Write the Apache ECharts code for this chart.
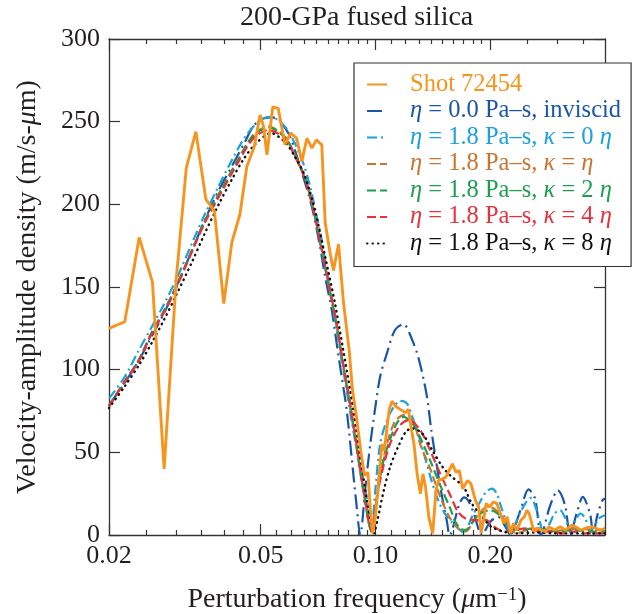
<!DOCTYPE html>
<html>
<head>
<meta charset="utf-8">
<script src="https://cdn.jsdelivr.net/npm/echarts@6/dist/echarts.min.js"></script>
<style>
html,body{margin:0;padding:0;background:#fff;}
#chart{width:634px;height:614px;}
</style>
</head>
<body>
<div id="chart"></div>
<script>
// ---- tick labels ----
const majorTicks = [0.02, 0.05, 0.1, 0.2];
const minorTicks = [0.025,0.03,0.035,0.04,0.045,0.055,0.06,0.065,0.07,0.075,0.08,0.085,0.09,0.095,
                    0.11,0.12,0.13,0.14,0.15,0.16,0.17,0.18,0.19,0.25,0.3,0.35];

// ---- series names ----
const seriesNames = [
  'Shot 72454',
  'η = 0.0 Pa–s, inviscid',
  'η = 1.8 Pa–s, κ = 0 η',
  'η = 1.8 Pa–s, κ = η',
  'η = 1.8 Pa–s, κ = 2 η',
  'η = 1.8 Pa–s, κ = 4 η',
  'η = 1.8 Pa–s, κ = 8 η'
];

// ---- Shot 72454 (measured) ----
const shotFreq = [0.0200,0.0220,0.0240,0.0260,0.0279,0.0300,0.0319,0.0338,0.0359,0.0378,0.0400,0.0420,0.0441,0.0460,0.0481,0.0498,0.0509,0.0519,0.0538,0.0556,0.0579,0.0599,0.0621,0.0641,0.0661,0.0681,0.0700,0.0723,0.0738,0.0761,0.0776,0.0800,0.0824,0.0853,0.0870,0.0893,0.0916,0.0936,0.0955,0.0970,0.0983,0.1000,0.1019,0.1040,0.1055,0.1072,0.1087,0.1105,0.1127,0.1161,0.1197,0.1220,0.1240,0.1262,0.1286,0.1312,0.1332,0.1353,0.1380,0.1413,0.1441,0.1464,0.1500,0.1529,0.1560,0.1592,0.1625,0.1659,0.1693,0.1745,0.1780,0.1829,0.1865,0.1893,0.1921,0.1951,0.1991,0.2040,0.2082,0.2126,0.2170,0.2215,0.2262,0.2300,0.2350,0.2407,0.2457,0.2497,0.2530,0.2570,0.2605,0.2660,0.2730,0.2790,0.2850,0.2950,0.3054,0.3150,0.3268,0.3350,0.3450,0.3550,0.3700,0.3889,0.4000];
const shotVel  = [125,129,180,153,40,154,222,244,203,196,140,177,194,223,235,254,247,230,259,258,236,243,240,226,240,234,239,236,189,170,160,176,141,112,88,70,50,36,38,15,1,11,33,55,51,65,76,81,78,76,74,76,65,55,37,25,37,29,11,1,27,33,34,35,39,43,38,39,28,33,31,21,17,1,9,19,17,20,19,13,7,11,1,7,3,9,11,15,13,7,2,4,3,2,5,3,5,3,6,5,3,4,5,3,4];

// ---- eta = 0.0, inviscid ----
const invFreq = [0.0200,0.0220,0.0240,0.0260,0.0280,0.0300,0.0330,0.0356,0.0387,0.0420,0.0455,0.0481,0.0520,0.0550,0.0572,0.0597,0.0630,0.0681,0.0716,0.0738,0.0768,0.0791,0.0815,0.0840,0.0865,0.0891,0.0912,0.0941,0.0969,0.1000,0.1029,0.1072,0.1125,0.1186,0.1228,0.1297,0.1364,0.1398,0.1437,0.1479,0.1540,0.1565,0.1661,0.1709,0.1748,0.1806,0.1903,0.2000,0.2097,0.2180,0.2257,0.2400,0.2521,0.2622,0.2718,0.2874,0.3009,0.3142,0.3240,0.3370,0.3498,0.3661,0.3720,0.3820,0.3940,0.4000];
const invVel  = [78.6,92,106,121,135,150,172,190,208,223,238,248,252.5,252.5,248,241,225,198.5,174,156,136,116,96,76,48,19,0,29,55,78,96,110,124,127.5,122,107,84,65,47,29,8,0,19,22.8,21,14,0,8,11,6,0,15,27.6,22,0,18,27,18,0,13,23,12,0,12,21,22];

// ---- eta = 1.8, kappa = 0 ----
const k0Freq = [0.0200,0.0220,0.0239,0.0259,0.0278,0.0301,0.0330,0.0356,0.0387,0.0420,0.0455,0.0498,0.0532,0.0555,0.0584,0.0615,0.0649,0.0674,0.0702,0.0723,0.0745,0.0768,0.0791,0.0815,0.0840,0.0865,0.0891,0.0912,0.0941,0.0964,0.0975,0.1000,0.1029,0.1072,0.1118,0.1161,0.1209,0.1245,0.1293,0.1347,0.1401,0.1459,0.1519,0.1582,0.1646,0.1700,0.1800,0.1880,0.1950,0.2020,0.2080,0.2130,0.2200,0.2250,0.2380,0.2470,0.2550,0.2620,0.2700,0.2750,0.2850,0.2950,0.3050,0.3150,0.3250,0.3350,0.3450,0.3550,0.3650,0.3750,0.3850,0.4000];
const k0Vel  = [82.6,95.7,111.4,126,139,155.2,176.4,193.5,210.6,226.7,240.8,250.9,252.9,250.9,245.9,236.8,223.7,210.6,192.4,178.4,160.2,142.1,124,105.8,87.7,69.5,53.4,43.3,27.2,11,2,28,55.4,69.5,77.6,81.2,79.6,72.5,61.5,47.3,33.3,21.2,13.1,8,4,1.5,12,20,26,28,25,18,8,1,12,19,22.4,18,8,2,6,13,15,10,2,9,13,10,3,5,10,12];

// ---- eta = 1.8, kappa = eta ----
const k1Freq = [0.0200,0.0220,0.0239,0.0259,0.0278,0.0301,0.0330,0.0356,0.0395,0.0437,0.0478,0.0524,0.0578,0.0615,0.0654,0.0688,0.0724,0.0760,0.0791,0.0823,0.0858,0.0891,0.0918,0.0946,0.0961,0.0980,0.1000,0.1052,0.1118,0.1186,0.1255,0.1310,0.1392,0.1479,0.1571,0.1669,0.1715,0.1855,0.1970,0.2045,0.2150,0.2257,0.2340,0.2500,0.2700,0.2900,0.3100,0.3400,0.3700,0.4000];
const k1Vel  = [78,93,105.5,122.5,135,151,172,189.5,209.5,227.5,242,247,241,230,216,196.5,171,146.5,126,101.5,77.5,53.5,34,16,7,1,17,47.3,67.5,72.5,69,55,40,23,10,3,2,12,17,16,11,4,1,3,4,2,3,4,3,3];

// ---- eta = 1.8, kappa = 2 eta ----
const k2Freq = [0.0200,0.0220,0.0239,0.0259,0.0278,0.0301,0.0330,0.0356,0.0395,0.0437,0.0478,0.0524,0.0578,0.0615,0.0654,0.0688,0.0724,0.0760,0.0791,0.0823,0.0858,0.0891,0.0918,0.0946,0.0961,0.0980,0.1000,0.1040,0.1125,0.1186,0.1255,0.1310,0.1392,0.1479,0.1571,0.1620,0.1669,0.1720,0.1855,0.2000,0.2090,0.2180,0.2280,0.2400,0.2600,0.2800,0.3000,0.3300,0.3600,0.4000];
const k2Vel  = [78,93,105.5,122.5,135,151,172,189.5,209,227,241.5,246.5,240.5,229.5,215.5,196,171.5,147,127,102.5,78.5,54.5,34.5,16.5,7,1.5,17,41.3,65.5,71.5,67,59,45,30,16,8,4,3,12,15,13,8,4,3,4,3,2,3,2,2];

// ---- eta = 1.8, kappa = 4 eta ----
const k4Freq = [0.0200,0.0220,0.0239,0.0259,0.0278,0.0301,0.0330,0.0356,0.0395,0.0437,0.0478,0.0524,0.0578,0.0615,0.0654,0.0688,0.0724,0.0760,0.0791,0.0823,0.0858,0.0891,0.0918,0.0946,0.0961,0.0980,0.1000,0.1029,0.1093,0.1161,0.1222,0.1310,0.1392,0.1479,0.1571,0.1646,0.1722,0.1830,0.1952,0.2045,0.2180,0.2300,0.2500,0.2700,0.2900,0.3100,0.3300,0.3600,0.4000];
const k4Vel  = [77.6,92.7,104.8,121.9,134,150.1,171.3,188.4,207.6,225.7,239.8,244.9,239.8,229,215,196.5,172.3,148.1,128,103.8,79.6,55.4,35.2,17.1,7,2,15,33.3,55.4,66.5,69.5,63.5,51,37,24,14,10,9,9,5,2,3,4,2,2,1,2,1,1];

// ---- eta = 1.8, kappa = 8 eta ----
const k8Freq = [0.0200,0.0220,0.0240,0.0260,0.0280,0.0300,0.0330,0.0356,0.0390,0.0420,0.0450,0.0482,0.0532,0.0578,0.0615,0.0654,0.0697,0.0738,0.0783,0.0823,0.0858,0.0891,0.0918,0.0946,0.0974,0.0990,0.1012,0.1052,0.1093,0.1147,0.1202,0.1249,0.1325,0.1409,0.1498,0.1571,0.1701,0.1787,0.1905,0.2013,0.2169,0.2347,0.2600,0.3000,0.3500,0.4000];
const k8Vel  = [76.8,90,103,117,131,145,165,182,201,215,227,236,243,237.8,228.7,216.6,194.5,168.3,140.1,111.9,87.7,63.5,43.3,23.2,7,1,9,27.2,41.3,53.4,62.5,64.5,61.5,51.4,41.3,36,29.2,19.2,11,5,2,1,1.5,1,1,1];

// ---- build ----
const FONT = 'Liberation Serif';
const INK = '#231F20';
function pairs(f, v) { return f.map((x, i) => [x, v[i]]); }

const styles = [
  { color: '#F7941D', width: 2.9, type: 'solid', smooth: false, z: 5 },
  { color: '#1A56A6', width: 2.2, type: [15, 5, 2, 5], smooth: 0.3, z: 3 },
  { color: '#1DA1DC', width: 2.2, type: [10, 4, 2, 4], smooth: 0.3, z: 3 },
  { color: '#C8752F', width: 2.2, type: [9, 4], smooth: 0.3, z: 3 },
  { color: '#1F9E52', width: 2.2, type: [9, 4], smooth: 0.3, z: 3 },
  { color: '#E5323C', width: 2.2, type: [9, 4], smooth: 0.3, z: 3 },
  { color: '#111111', width: 2.4, type: [0.5, 5], cap: 'round', smooth: 0.3, z: 4 }
];
const datasets = [
  pairs(shotFreq, shotVel), pairs(invFreq, invVel), pairs(k0Freq, k0Vel),
  pairs(k1Freq, k1Vel), pairs(k2Freq, k2Vel), pairs(k4Freq, k4Vel), pairs(k8Freq, k8Vel)
];

const series = seriesNames.map((name, i) => ({
  name: name,
  type: 'line',
  data: datasets[i],
  symbol: 'none',
  showSymbol: false,
  smooth: styles[i].smooth,
  z: styles[i].z,
  color: styles[i].color,
  lineStyle: { color: styles[i].color, width: styles[i].width, type: styles[i].type, cap: styles[i].cap || 'butt' },
  emphasis: { disabled: true },
  animation: false
}));

function xAxisDef(pos, major) {
  return {
    type: 'log', logBase: 10, min: 0.02, max: 0.4, position: pos, gridIndex: 0,
    axisLine: { show: major, onZero: false, lineStyle: { color: '#333', width: 1.3 } },
    axisTick: { show: true, inside: true, length: major ? 11 : 5, customValues: major ? majorTicks : minorTicks,
                lineStyle: { color: '#333', width: 1.2 } },
    minorTick: { show: false },
    splitLine: { show: false },
    axisLabel: { show: pos === 'bottom' && major, customValues: majorTicks, margin: 8,
                 formatter: v => Number(v).toFixed(2),
                 fontFamily: FONT, fontSize: 26, color: INK },
    name: (pos === 'bottom' && major) ? '{t|Perturbation frequency (}{i|μ}{t|m}{s|−1}{t|)}' : '',
    nameLocation: 'middle', nameGap: 51,
    nameTextStyle: { fontFamily: FONT, fontSize: 28, color: INK,
      rich: { t: { fontFamily: FONT, fontSize: 28, color: INK },
              i: { fontFamily: FONT, fontSize: 28, fontStyle: 'italic', color: INK },
              s: { fontFamily: FONT, fontSize: 19, color: INK, verticalAlign: 'top' } } }
  };
}
function yAxisDef(pos) {
  const left = pos === 'left';
  return {
    type: 'value', min: 0, max: 300, interval: 50, position: pos, gridIndex: 0,
    axisLine: { show: true, onZero: false, lineStyle: { color: '#333', width: 1.3 } },
    axisTick: { show: true, inside: true, length: 11, lineStyle: { color: '#333', width: 1.2 } },
    splitLine: { show: false },
    axisLabel: { show: left, margin: 9, fontFamily: FONT, fontSize: 26, color: INK },
    name: left ? 'Velocity-amplitude density (m/s-{i|μ}m)' : '',
    nameLocation: 'middle', nameGap: 67,
    nameTextStyle: { fontFamily: FONT, fontSize: 28, color: INK,
      rich: { i: { fontFamily: FONT, fontSize: 28, fontStyle: 'italic', color: INK } } }
  };
}

const chart = echarts.init(document.getElementById('chart'), null, { renderer: 'canvas' });
chart.setOption({
  animation: false,
  backgroundColor: '#fff',
  title: {
    text: '200-GPa fused silica', left: 240, top: 4, padding: 0,
    textStyle: { fontFamily: FONT, fontSize: 28, fontWeight: 'normal', color: INK }
  },
  grid: { left: 109, right: 29, top: 39, bottom: 79, containLabel: false, outerBoundsMode: 'none' },
  xAxis: [xAxisDef('bottom', true), xAxisDef('bottom', false), xAxisDef('top', true), xAxisDef('top', false)],
  yAxis: [yAxisDef('left'), yAxisDef('right')],
  legend: {
    orient: 'vertical', left: 354, top: 63,
    itemWidth: 20, itemHeight: 14, itemGap: 1.5,
    padding: [9, 10, 10.5, 12],
    backgroundColor: '#fff', borderColor: '#333', borderWidth: 1.2,
    selectedMode: false,
    itemStyle: { opacity: 0 },
    formatter: name => name.replace(/([ηκ])/g, '{i|$1}'),
    textStyle: { fontFamily: FONT, fontSize: 24.5, lineHeight: 25, padding: [0, 0, 0, 18],
      rich: { i: { fontFamily: FONT, fontSize: 24.5, lineHeight: 25, fontStyle: 'italic' } } },
    data: seriesNames.map((n, i) => ({ name: n, textStyle: { color: styles[i].color } }))
  },
  series: series
});
</script>
</body>
</html>
